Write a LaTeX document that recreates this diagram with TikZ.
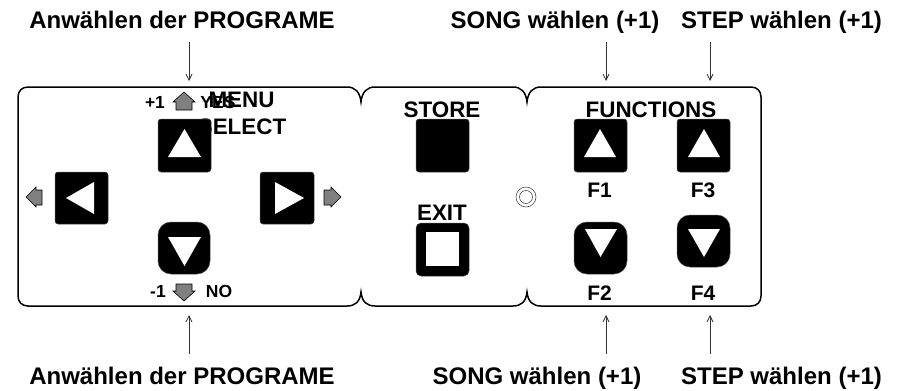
\documentclass[tikz,border=0pt]{standalone}
\usepackage{fontspec}
\setmainfont{Liberation Sans}
\usetikzlibrary{arrows.meta}
\tikzset{
 x=1pt,y=-1pt,
 lab/.style={inner sep=0pt,anchor=base,font=\bfseries\fontsize{24}{26}\selectfont},
 fkey/.style={inner sep=0pt,anchor=base,font=\bfseries\fontsize{21}{23}\selectfont},
 small/.style={inner sep=0pt,anchor=base,font=\bfseries\fontsize{17.5}{19}\selectfont},
 big/.style={inner sep=0pt,anchor=base,font=\bfseries\fontsize{22.4}{24}\selectfont},
 key/.style={draw=black!70,line width=0.5pt,fill=black},
 glyph/.style={fill=white},
 hint/.style={draw=black,line width=0.6pt,fill=black!50},
 ptr/.style={draw=black!80,line width=0.8pt,-{Straight Barb[length=6pt,width=6pt]}},
 panel/.style={draw=black,line width=1.5pt},
}
\begin{document}
\begin{tikzpicture}
\useasboundingbox (0,0) rectangle (911,391);
% outline
\draw[panel] (28,87) -- (347,87) .. controls (355,87) and (360,92) .. (361,102)
  .. controls (362,92) and (367,87) .. (375,87) -- (513,87)
  .. controls (521,87) and (526,92) .. (527,102)
  .. controls (528,92) and (533,87) .. (541,87) -- (751,87)
  .. controls (757,87) and (761,91) .. (761,97) -- (761,296)
  .. controls (761,302) and (757,306) .. (751,306) -- (541,306)
  .. controls (533,306) and (528,302) .. (527,292)
  .. controls (526,302) and (521,306) .. (513,306) -- (375,306)
  .. controls (367,306) and (362,302) .. (361,292)
  .. controls (360,302) and (355,306) .. (347,306) -- (28,306)
  .. controls (22,306) and (18,302) .. (18,296) -- (18,97)
  .. controls (18,91) and (22,87) .. (28,87) -- cycle;
% texts under the button
\node[big] (menu) at (241.5,107) {MENU};
\node[big] (select) at (242,134) {SELECT};
\node[small] (yes) at (218,108) {YES};
\node[small] (plus) at (155,108) {+1};
\node[small] (minus) at (158,297) {-1};
\node[small] (no) at (219,297) {NO};
% small hint arrows
\draw[hint] (184,92) -- (195,102) -- (192,102) -- (192,110) -- (176,110) -- (176,102) -- (173,102) -- cycle;
\draw[hint] (184,301) -- (195,291) -- (192,291) -- (192,284) -- (176,284) -- (176,291) -- (173,291) -- cycle;
\draw[hint] (26,197) -- (36,187) -- (36,190) -- (42,190) -- (42,205) -- (36,205) -- (36,207) -- cycle;
\draw[hint] (341,197) -- (331,187) -- (331,190) -- (324,190) -- (324,205) -- (331,205) -- (331,207) -- cycle;
% keys
\path[key,rounded corners=3pt] (158,119) rectangle (211,172);
\fill[glyph] (184.5,129) -- (201,157) -- (168,157) -- cycle;
\path[key,rounded corners=3pt] (55,172) rectangle (108,224);
\fill[glyph] (66,198) -- (94,182) -- (94,214) -- cycle;
\path[key,rounded corners=3pt] (260,172) rectangle (314,224);
\fill[glyph] (304,198) -- (275,182) -- (275,214) -- cycle;
\path[key,rounded corners=13pt] (158,222) rectangle (210,274);
\fill[glyph] (184.5,266) -- (201,237) -- (168,237) -- cycle;
\path[key,rounded corners=3pt] (416,119) rectangle (469,172);
\path[key,rounded corners=5pt] (416,223) rectangle (469,276);
\fill[glyph] (426,232) rectangle (459,266);
\path[key,rounded corners=3pt] (574,119) rectangle (627,172);
\fill[glyph] (600,129) -- (616,157) -- (584,157) -- cycle;
\path[key,rounded corners=3pt] (677,119) rectangle (730,172);
\fill[glyph] (704,129) -- (720,157) -- (688,157) -- cycle;
\path[key,rounded corners=13pt] (574,222) rectangle (627,274);
\fill[glyph] (600.5,257) -- (617,229) -- (585,229) -- cycle;
\path[key,rounded corners=13pt] (677,215) rectangle (730,267);
\fill[glyph] (704,257) -- (720,229) -- (688,229) -- cycle;
% jack
\draw[black!70,line width=0.6pt] (526,197) circle (10);
\draw[black!70,line width=0.6pt] (526,197) circle (6.5);
% panel captions
\node[big] (store) at (442,117) {STORE};
\node[big] (exit) at (442,220) {EXIT};
\node[big] (functions) at (651,117) {FUNCTIONS};
\node[fkey] (f1) at (599.5,197) {F1};
\node[fkey] (f3) at (703,197) {F3};
\node[fkey] (f2) at (599.5,300) {F2};
\node[fkey] (f4) at (703,300) {F4};
% outer labels
\node[lab] (t1) at (182,28) {Anwählen der PROGRAME};
\node[lab] (t2) at (555,28) {SONG wählen (+1)};
\node[lab] (t3) at (781.5,28) {STEP wählen (+1)};
\node[lab] (b1) at (182,384) {Anwählen der PROGRAME};
\node[lab] (b2) at (537,384) {SONG wählen (+1)};
\node[lab] (b3) at (781.5,384) {STEP wählen (+1)};
% pointers
\coordinate (pt1) at (189,81); \coordinate (st1) at (189,42);
\coordinate (pt2) at (606,81); \coordinate (st2) at (606,42);
\coordinate (pt3) at (710,81); \coordinate (st3) at (710,42);
\coordinate (pb1) at (189,315); \coordinate (sb1) at (189,354);
\coordinate (pb2) at (606,315); \coordinate (sb2) at (606,354);
\coordinate (pb3) at (710,315); \coordinate (sb3) at (710,354);
\draw[ptr] (st1) -- (pt1);
\draw[ptr] (st2) -- (pt2);
\draw[ptr] (st3) -- (pt3);
\draw[ptr] (sb1) -- (pb1);
\draw[ptr] (sb2) -- (pb2);
\draw[ptr] (sb3) -- (pb3);
\end{tikzpicture}
\end{document}
